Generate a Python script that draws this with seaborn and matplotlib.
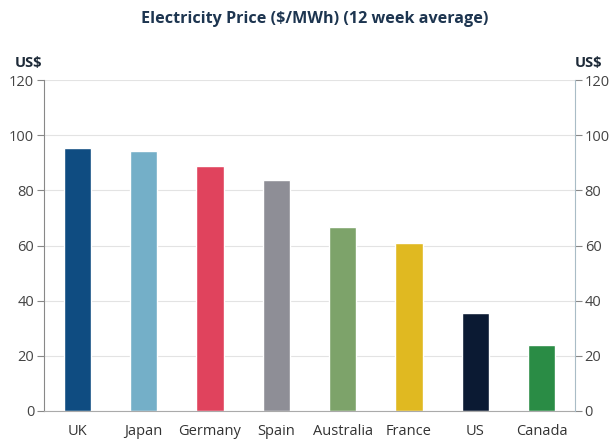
import matplotlib
matplotlib.use("Agg")
import pandas as pd
import matplotlib.pyplot as plt
import seaborn as sns

countries = ["UK", "Japan", "Germany", "Spain", "Australia", "France", "US", "Canada"]
prices = [95.4, 94.3, 88.8, 83.8, 66.7, 60.9, 35.5, 23.9]
colors = ["#0f4c81", "#74afc8", "#e0435d", "#8e8e96", "#7da36a", "#e0b921", "#0b1a33", "#2a8c45"]
yticks = [0, 20, 40, 60, 80, 100, 120]

data = pd.DataFrame({"country": countries, "price": prices})

sns.set_style("white")
plt.rcParams["font.family"] = ["Open Sans", "DejaVu Sans"]

fig = plt.figure(figsize=(6.12, 4.48), dpi=100)
ax = fig.add_axes([0.0719, 0.0826, 0.8676, 0.7388])

sns.barplot(x="country", y="price", data=data, hue="country", palette=colors,
            legend=False, width=0.41, saturation=1, ax=ax)

ax.set_ylim(0, 120)
ax.set_xlim(-0.5, 7.5)
ax.set_yticks(yticks)
ax.set_xlabel("")
ax.set_ylabel("")
ax.yaxis.grid(True, color="#e3e3e3", linewidth=0.8)
ax.set_axisbelow(True)
for s in ["top", "right"]:
    ax.spines[s].set_visible(False)
ax.spines["left"].set_color("#888888")
ax.spines["bottom"].set_color("#aaaaaa")
ax.tick_params(axis="y", left=True, length=5, color="#888888", labelsize=10.5, labelcolor="#444444", pad=2)
ax.tick_params(axis="x", bottom=False, labelsize=10.5, labelcolor="#333333", pad=6)

ax2 = ax.twinx()
ax2.set_ylim(0, 120)
ax2.set_yticks(yticks)
for s in ["top", "left", "bottom"]:
    ax2.spines[s].set_visible(False)
ax2.spines["right"].set_color("#a9bcc6")
ax2.tick_params(axis="y", right=True, length=5, color="#888888", labelsize=10.5, labelcolor="#444444", pad=2)

fig.text(0.046, 0.850, "US$", fontsize=10.5, fontweight="bold", color="#1d2a38", ha="center")
fig.text(0.962, 0.850, "US$", fontsize=10.5, fontweight="bold", color="#1d2a38", ha="center")
fig.suptitle("Electricity Price ($/MWh) (12 week average)", x=0.515, y=0.975,
             fontsize=11.6, fontweight="bold", color="#1d3550")

fig.savefig("out.png", dpi=100)
